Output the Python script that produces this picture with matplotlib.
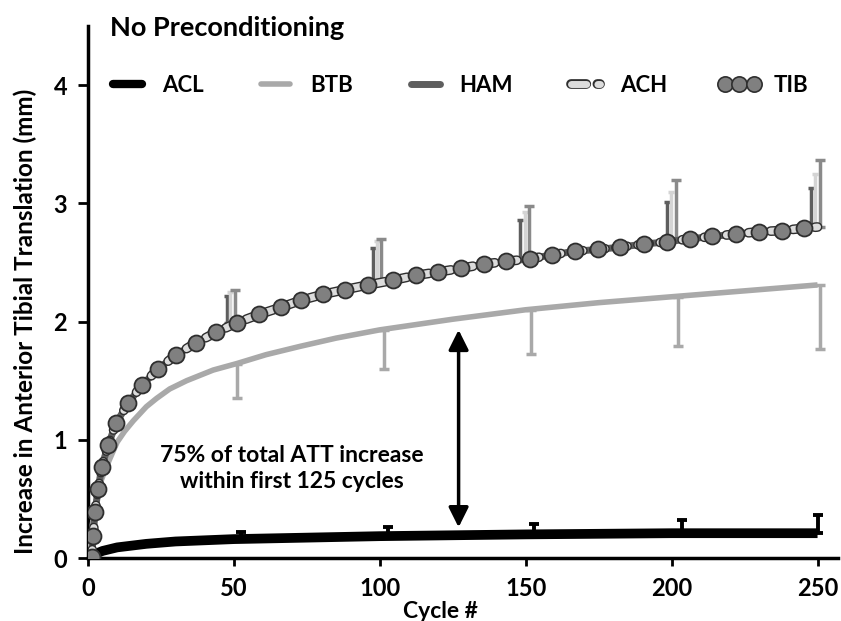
import matplotlib
matplotlib.use("Agg")
import matplotlib.pyplot as plt
from matplotlib.lines import Line2D
import matplotlib.patheffects as pe

plt.rcParams['font.family'] = ['Lato', 'DejaVu Sans']
plt.rcParams['font.weight'] = 'bold'

# ---- data ----
tib_cycles = [0, 1.3, 1.8, 2.4, 3.5, 4.7, 7, 9.6, 13.8, 18.4, 24.1, 30.3, 37, 44, 51,
              58.6, 66, 73, 80.5, 88, 96, 104.6, 112.3, 120, 127.7, 135.6, 143.4,
              151.4, 159.1, 167, 174.8, 182.4, 190.4, 198.4, 206.2, 213.9, 221.9,
              229.8, 237.8, 245.5]
tib_values = [0.0, 0.01, 0.19, 0.39, 0.58, 0.77, 0.96, 1.14, 1.31, 1.46, 1.60, 1.72,
              1.82, 1.91, 1.99, 2.06, 2.12, 2.18, 2.23, 2.27, 2.31, 2.35, 2.39, 2.42,
              2.45, 2.485, 2.51, 2.53, 2.565, 2.595, 2.61, 2.63, 2.655, 2.675, 2.70,
              2.72, 2.74, 2.76, 2.77, 2.79]
ham_cycles = tib_cycles + [250]
ham_values = tib_values + [2.80]
ach_cycles = tib_cycles + [250]
ach_values = tib_values + [2.80]

btb_cycles = [0, 1, 2.5, 4, 5.8, 7.5, 10, 12.5, 15.5, 20, 23.5, 28, 33.8, 42.9, 51,
              61, 72.6, 85, 100, 125, 150, 175, 200, 225, 250]
btb_values = [0.0, 0.2, 0.45, 0.62, 0.74, 0.84, 0.98, 1.07, 1.16, 1.28, 1.35, 1.43,
              1.50, 1.59, 1.645, 1.72, 1.79, 1.86, 1.93, 2.02, 2.10, 2.16, 2.21,
              2.26, 2.31]

acl_cycles = [0, 2, 5, 10, 20, 30, 50, 100, 150, 200, 250]
acl_values = [0.0, 0.03, 0.06, 0.09, 0.12, 0.14, 0.16, 0.185, 0.20, 0.21, 0.21]

ham_err_x = [47.7, 97.7, 148.2, 198.4, 247.6]
ach_err_x = [48.8, 99.0, 149.7, 199.7, 249.0]
tib_err_x = [50.3, 100.5, 151.1, 201.4, 250.7]
btb_err_x = [51.0, 101.5, 151.9, 202.2, 251.0]
acl_err_x = [52.3, 102.8, 153.0, 203.4, 250.0]

ham_err_mean = [1.99, 2.34, 2.54, 2.69, 2.80]
ham_err_top = [2.22, 2.62, 2.86, 3.01, 3.13]
ach_err_top = [2.25, 2.68, 2.93, 3.10, 3.25]
tib_err_top = [2.27, 2.70, 2.98, 3.20, 3.37]
btb_err_mean = [1.64, 1.93, 2.10, 2.21, 2.31]
btb_err_bottom = [1.35, 1.60, 1.73, 1.79, 1.77]
acl_err_mean = [0.16, 0.185, 0.20, 0.21, 0.21]
acl_err_top = [0.22, 0.265, 0.29, 0.32, 0.36]

series_names = ['ACL', 'BTB', 'HAM', 'ACH', 'TIB']
x_ticks = [0, 50, 100, 150, 200, 250]
y_ticks = [0, 1, 2, 3, 4]

# ---- styles ----
C_ACL = 'black'
C_BTB = '#a9a9a9'
C_HAM = '#5e5e5e'
C_ACH = '#dcdcdc'
C_TIB = '#808080'
EDGE = '#2e2e2e'

fig = plt.figure(figsize=(8.41, 6.21), dpi=100)
ax = fig.add_axes([0.1046, 0.1014, 0.8918, 0.8567])

ax.set_xlim(0, 257)
ax.set_ylim(0, 4.5)

def up_err(xs, mean, top, color, lw, cap):
    ax.errorbar(xs, mean, yerr=[[0] * len(mean), [t - m for t, m in zip(top, mean)]],
                fmt='none', ecolor=color, elinewidth=lw, capsize=cap, capthick=lw,
                zorder=2)

def down_err(xs, mean, bottom, color, lw, cap):
    ax.errorbar(xs, mean, yerr=[[m - b for m, b in zip(mean, bottom)], [0] * len(mean)],
                fmt='none', ecolor=color, elinewidth=lw, capsize=cap, capthick=lw,
                zorder=2)

# error bars
up_err(ham_err_x, ham_err_mean, ham_err_top, C_HAM, 2.5, 2.5)
up_err(ach_err_x, ham_err_mean, ach_err_top, '#d4d4d4', 2.5, 2.5)
up_err(tib_err_x, ham_err_mean, tib_err_top, '#8a8a8a', 2.5, 3.5)
down_err(btb_err_x, btb_err_mean, btb_err_bottom, C_BTB, 2.5, 3.5)
up_err(acl_err_x, acl_err_mean, acl_err_top, C_ACL, 2.8, 3.5)

# lines
ax.plot(btb_cycles, btb_values, color=C_BTB, lw=4, solid_capstyle='butt', zorder=3)
ax.plot(acl_cycles, acl_values, color=C_ACL, lw=7, solid_capstyle='butt', zorder=3)
ax.plot(ham_cycles, ham_values, color=C_HAM, lw=5, solid_capstyle='butt', zorder=4)
ach_pe = [pe.Stroke(linewidth=7, foreground=EDGE), pe.Normal()]
ax.plot(ach_cycles, ach_values, color=C_ACH, lw=5, dashes=(1.6, 1.6),
        dash_capstyle='round', path_effects=ach_pe, zorder=5)
ax.plot(tib_cycles, tib_values, linestyle='none', marker='o', markersize=11.5,
        markerfacecolor=C_TIB, markeredgecolor=EDGE, markeredgewidth=1.3, zorder=6)

# annotation arrow and text
ax.annotate('', xy=(127, 0.26), xytext=(127, 1.93),
            arrowprops=dict(arrowstyle='<|-|>', color='black', lw=2.5,
                            mutation_scale=30, shrinkA=0, shrinkB=0), zorder=7)
ax.text(70, 0.76, '75% of total ATT increase\nwithin first 125 cycles',
        ha='center', va='center', fontsize=16.5, fontweight='bold', linespacing=1.3,
        zorder=7)

# title
ax.text(0.029, 0.997, 'No Preconditioning', transform=ax.transAxes,
        ha='left', va='center', fontsize=19.5, fontweight='bold')

# legend
handles = [
    Line2D([], [], color=C_ACL, lw=6, solid_capstyle='round'),
    Line2D([], [], color=C_BTB, lw=4, solid_capstyle='round'),
    Line2D([], [], color=C_HAM, lw=5, solid_capstyle='round'),
    Line2D([], [], color=C_ACH, lw=5, dashes=(2.2, 1.6), dash_capstyle='round',
           path_effects=ach_pe),
    Line2D([], [], linestyle='none', marker='o', markersize=11,
           markerfacecolor=C_TIB, markeredgecolor=EDGE, markeredgewidth=1.2),
]
leg = ax.legend(handles, series_names, ncol=5, loc='center left',
                bbox_to_anchor=(-0.002, 0.889), frameon=False, fontsize=16,
                handlelength=1.9, handletextpad=0.6, columnspacing=2.3,
                numpoints=3)
for t in leg.get_texts():
    t.set_fontweight('bold')

# axes styling
for s in ['top', 'right']:
    ax.spines[s].set_visible(False)
for s in ['left', 'bottom']:
    ax.spines[s].set_linewidth(2.5)
    ax.spines[s].set_color('black')
ax.set_xticks(x_ticks)
ax.set_yticks(y_ticks)
ax.tick_params(axis='x', direction='out', length=6, width=2, labelsize=17, pad=8)
ax.tick_params(axis='y', direction='out', length=7, width=2, labelsize=17, pad=8)
for lab in ax.get_xticklabels() + ax.get_yticklabels():
    lab.set_fontweight('bold')
ax.set_xlabel('Cycle #', fontsize=16.5, fontweight='bold')
ax.xaxis.set_label_coords(0.47, -0.08)
ax.set_ylabel('Increase in Anterior Tibial Translation (mm)', fontsize=17.5,
              fontweight='bold')
ax.yaxis.set_label_coords(-0.068, 0.445)

fig.savefig('out.png', dpi=100)
